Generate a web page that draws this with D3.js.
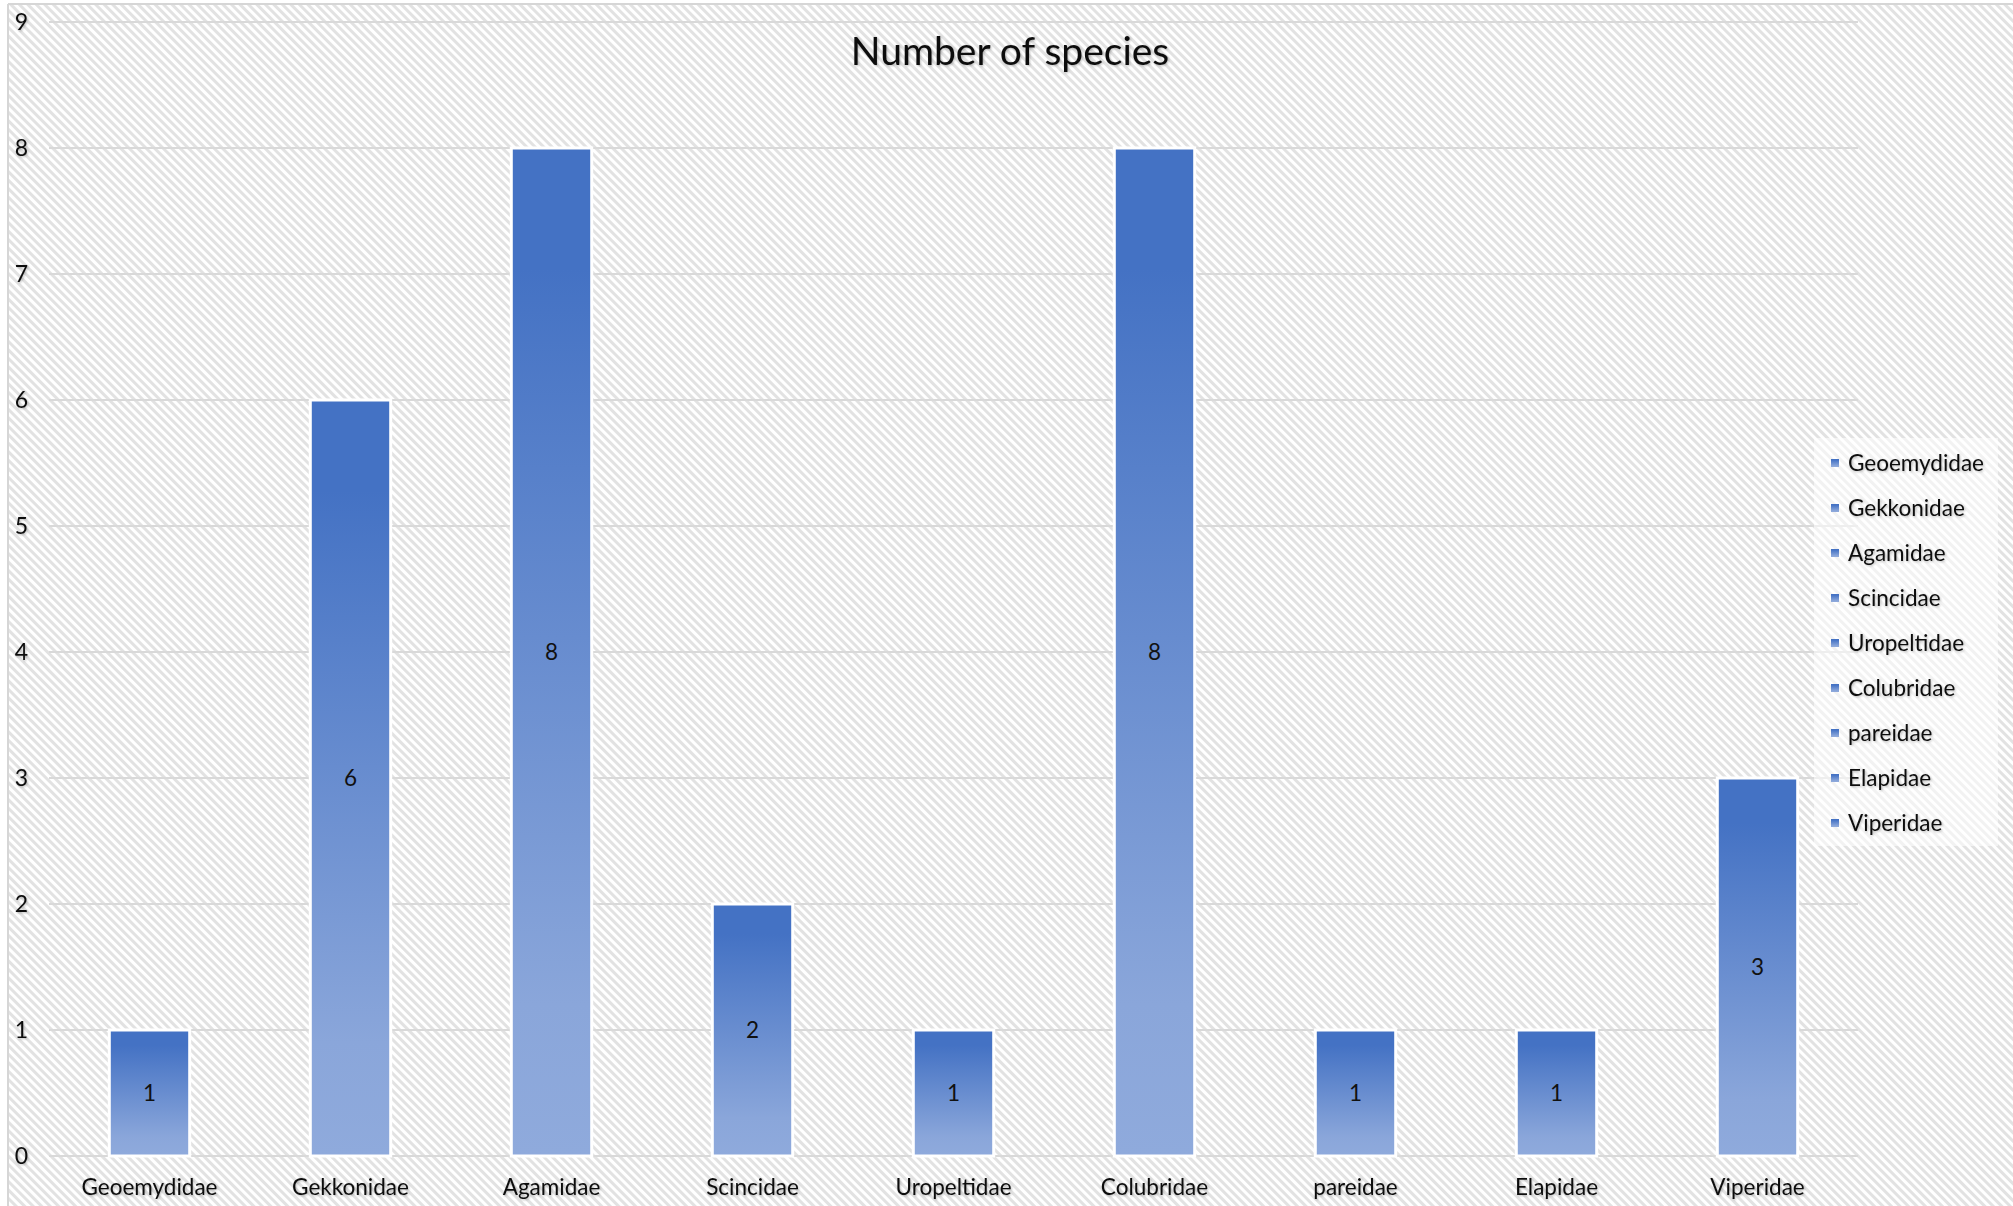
<!DOCTYPE html>
<html>
<head>
<meta charset="utf-8">
<script src="https://cdn.jsdelivr.net/npm/d3@7"></script>
<style>
  html, body { margin: 0; padding: 0; background: #ffffff; }
  svg { display: block; }
  text { font-family: Lato, "Noto Sans", sans-serif; fill: #111; }
</style>
</head>
<body>
<div id="chart"></div>
<script>
const categories = ["Geoemydidae", "Gekkonidae", "Agamidae", "Scincidae", "Uropeltidae", "Colubridae", "pareidae", "Elapidae", "Viperidae"];
const values = [1, 6, 8, 2, 1, 8, 1, 1, 3];
const yTicks = [0, 1, 2, 3, 4, 5, 6, 7, 8, 9];
const title = "Number of species";

const W = 2013, H = 1206;
const svg = d3.select("#chart").append("svg").attr("width", W).attr("height", H);
const defs = svg.append("defs");

const pat = defs.append("pattern").attr("id", "hatch").attr("patternUnits", "userSpaceOnUse")
  .attr("width", 6).attr("height", 6).attr("patternTransform", "rotate(45)");
pat.append("rect").attr("width", 6).attr("height", 6).attr("fill", "#ffffff");
pat.append("rect").attr("width", 6).attr("height", 3).attr("fill", "#e2e2e2");

const grad = defs.append("linearGradient").attr("id", "barGrad").attr("x1", 0).attr("y1", 0).attr("x2", 0).attr("y2", 1);
[[0, "#4472c4"], [0.12, "#4472c4"], [0.85, "#8aa6da"], [1, "#8faadc"]].forEach(([o, c]) =>
  grad.append("stop").attr("offset", o).attr("stop-color", c));

const shadow = defs.append("filter").attr("id", "tshadow").attr("x", "-10%").attr("y", "-20%").attr("width", "130%").attr("height", "150%");
shadow.append("feDropShadow").attr("dx", 1).attr("dy", 1).attr("stdDeviation", 1).attr("flood-color", "#000").attr("flood-opacity", 0.25);

// chart area background
svg.append("rect").attr("x", 8).attr("y", 4).attr("width", W - 8).attr("height", H - 4).attr("fill", "url(#hatch)");
svg.append("line").attr("x1", 8).attr("x2", 8).attr("y1", 4).attr("y2", H).attr("stroke", "#d6d6d6").attr("stroke-width", 2);
svg.append("line").attr("x1", 8).attr("x2", W).attr("y1", 4).attr("y2", 4).attr("stroke", "#d6d6d6").attr("stroke-width", 2);

const x = d3.scaleBand().domain(categories).range([49, 1858]).paddingInner(0.6).paddingOuter(0.3);
const y = d3.scaleLinear().domain([0, 9]).range([1156, 22]);

// gridlines
svg.append("g").selectAll("line").data(yTicks).join("line")
  .attr("x1", 49).attr("x2", 1858)
  .attr("y1", d => y(d)).attr("y2", d => y(d))
  .attr("stroke", "#d9d9d9").attr("stroke-width", 2);

// y axis
const yAxis = svg.append("g").attr("transform", "translate(28,0)")
  .call(d3.axisLeft(y).tickValues(yTicks).tickSize(0).tickPadding(0));
yAxis.select(".domain").remove();
yAxis.selectAll("text").attr("font-size", 23).attr("font-family", "Lato, sans-serif").attr("fill", "#111").attr("filter", "url(#tshadow)");

// x axis
const xAxis = svg.append("g").attr("transform", "translate(0,1179)")
  .call(d3.axisBottom(x).tickSize(0).tickPadding(0));
xAxis.select(".domain").remove();
xAxis.selectAll("text").attr("font-size", 22.5).attr("font-family", "Lato, sans-serif").attr("fill", "#111").attr("dy", "0.71em").attr("filter", "url(#tshadow)");

// bars
svg.append("g").selectAll("rect").data(values).join("rect")
  .attr("x", (d, i) => x(categories[i]))
  .attr("width", x.bandwidth())
  .attr("y", d => y(d))
  .attr("height", d => y(0) - y(d))
  .attr("fill", "url(#barGrad)")
  .attr("stroke", "#ffffff").attr("stroke-width", 3);

// data labels
svg.append("g").selectAll("text").data(values).join("text")
  .attr("x", (d, i) => x(categories[i]) + x.bandwidth() / 2)
  .attr("y", d => (y(d) + y(0)) / 2)
  .attr("dy", "0.35em")
  .attr("text-anchor", "middle")
  .attr("font-size", 22.5)
  .text(d => d);

// title
svg.append("text").attr("x", 1010).attr("y", 65).attr("text-anchor", "middle")
  .attr("font-size", 39).attr("filter", "url(#tshadow)").text(title);

// legend
const lg = svg.append("g");
lg.append("rect").attr("x", 1814).attr("y", 438).attr("width", 184).attr("height", 408)
  .attr("fill", "#ffffff").attr("opacity", 0.55);
const items = lg.selectAll("g.item").data(categories).join("g").attr("class", "item")
  .attr("transform", (d, i) => `translate(1831, ${463 + i * 45})`);
items.append("rect").attr("x", 0).attr("y", -4).attr("width", 8).attr("height", 8).attr("fill", "url(#barGrad)");
items.append("text").attr("x", 17).attr("dy", "0.35em").attr("font-size", 22.5).attr("filter", "url(#tshadow)").text(d => d);
</script>
</body>
</html>
